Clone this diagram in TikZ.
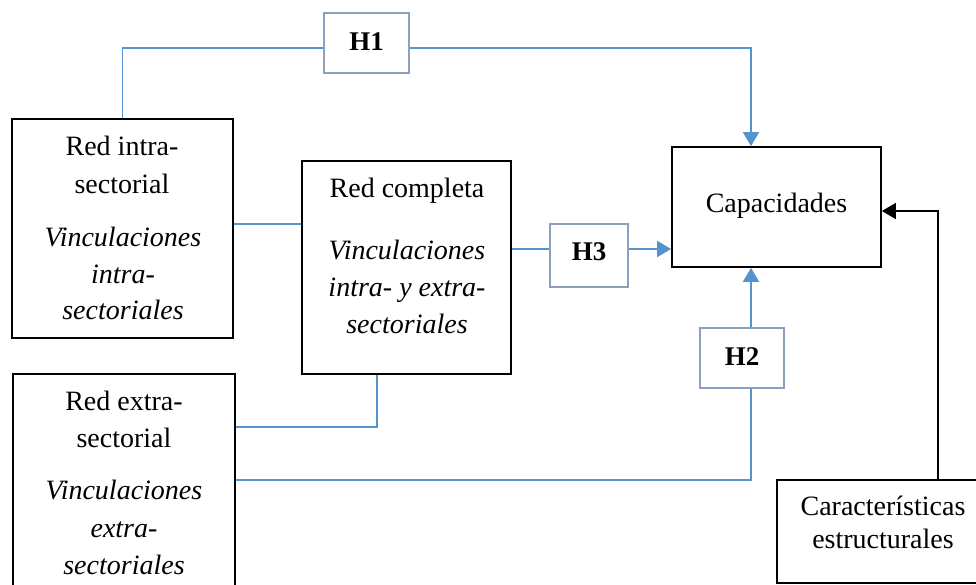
\documentclass[tikz,border=0pt]{standalone}
\usepackage{fontspec}
\setmainfont{Liberation Serif}
\usetikzlibrary{arrows.meta}
\definecolor{lnkc}{RGB}{84,148,206}
\definecolor{hbord}{RGB}{140,160,190}
\begin{document}
\begin{tikzpicture}[x=1pt,y=-1pt,
  box/.style={draw=black,line width=1.8pt,inner sep=0pt},
  hbox/.style={draw=hbord,line width=1.8pt,fill=white,inner sep=0pt},
  txt/.style={font=\fontsize{28}{34}\selectfont,anchor=base,inner sep=0pt},
  itx/.style={font=\fontsize{28}{34}\selectfont\itshape,anchor=base,inner sep=0pt},
  htx/.style={font=\fontsize{27}{32}\selectfont\bfseries,anchor=base,inner sep=0pt},
  lnk/.style={draw=lnkc,line width=1.9pt},
  arr/.style={-{Triangle[length=14pt,width=16pt]}}]
\useasboundingbox (0,0) rectangle (976,584);
\clip (0,0) rectangle (976,584);
\fill[white] (0,0) rectangle (976,584);
% boxes
\node[box,minimum width=221pt,minimum height=219pt] (A) at (122.5,228.5) {};
\node[box,minimum width=209pt,minimum height=213pt] (B) at (406.5,267.5) {};
\node[box,minimum width=222pt,minimum height=246pt] (C) at (124,497) {};
\node[box,minimum width=209pt,minimum height=120pt] (Cap) at (776.5,207) {};
\node[box,minimum width=213pt,minimum height=103pt] (Car) at (883.5,531.5) {};
\node[hbox,minimum width=85pt,minimum height=60pt] (H1) at (366.5,43) {};
\node[hbox,minimum width=78pt,minimum height=63pt] (H3) at (589,255.5) {};
\node[hbox,minimum width=84pt,minimum height=60pt] (H2) at (742,358) {};
% texts
\node[txt] (a1) at (122,155) {Red intra-};
\node[txt] (a2) at (122,193) {sectorial};
\node[itx] (a3) at (123,246) {Vinculaciones};
\node[itx] (a4) at (123,283) {intra-};
\node[itx] (a5) at (123,319) {sectoriales};
\node[txt] (b1) at (407,197) {Red completa};
\node[itx] (b2) at (407,259) {Vinculaciones};
\node[itx] (b3) at (407,296) {intra- y extra-};
\node[itx] (b4) at (407,333) {sectoriales};
\node[txt] (c1) at (124,410) {Red extra-};
\node[txt] (c2) at (124,447) {sectorial};
\node[itx] (c3) at (124,499) {Vinculaciones};
\node[itx] (c4) at (124,537) {extra-};
\node[itx] (c5) at (124,574) {sectoriales};
\node[txt] (cap1) at (776.5,212) {Capacidades};
\node[txt] (car1) at (883,515) {Características};
\node[txt] (car2) at (883,548) {estructurales};
\node[htx] (h1t) at (366.5,50) {H1};
\node[htx] (h3t) at (589,260) {H3};
\node[htx] (h2t) at (742,365) {H2};
% connectors
\draw[lnk] (A.north) |- ([yshift=-5pt]H1.west);
\draw[lnk,arr] ([yshift=-5pt]H1.east) -| ([xshift=-25.5pt]Cap.north);
\draw[lnk] ([yshift=4.5pt]A.east) -- ([yshift=4.5pt]A.east -| B.west);
\draw[lnk] ([yshift=6.5pt]H3.west) -- ([yshift=6.5pt]H3.west -| B.east);
\draw[lnk,arr] ([yshift=6.5pt]H3.east) -- ([yshift=6.5pt]H3.east -| Cap.west);
\draw[lnk] ([xshift=-29.5pt]B.south) |- ([yshift=70pt]C.east);
\draw[lnk] ([yshift=17pt]C.east) -| ([xshift=9pt]H2.south);
\draw[lnk,arr] ([xshift=9pt]H2.north) -- ([xshift=9pt]H2.north |- Cap.south);
\draw[black,line width=1.8pt,arr] ([xshift=54.5pt]Car.north) |- ([yshift=-4pt]Cap.east);
\end{tikzpicture}
\end{document}
